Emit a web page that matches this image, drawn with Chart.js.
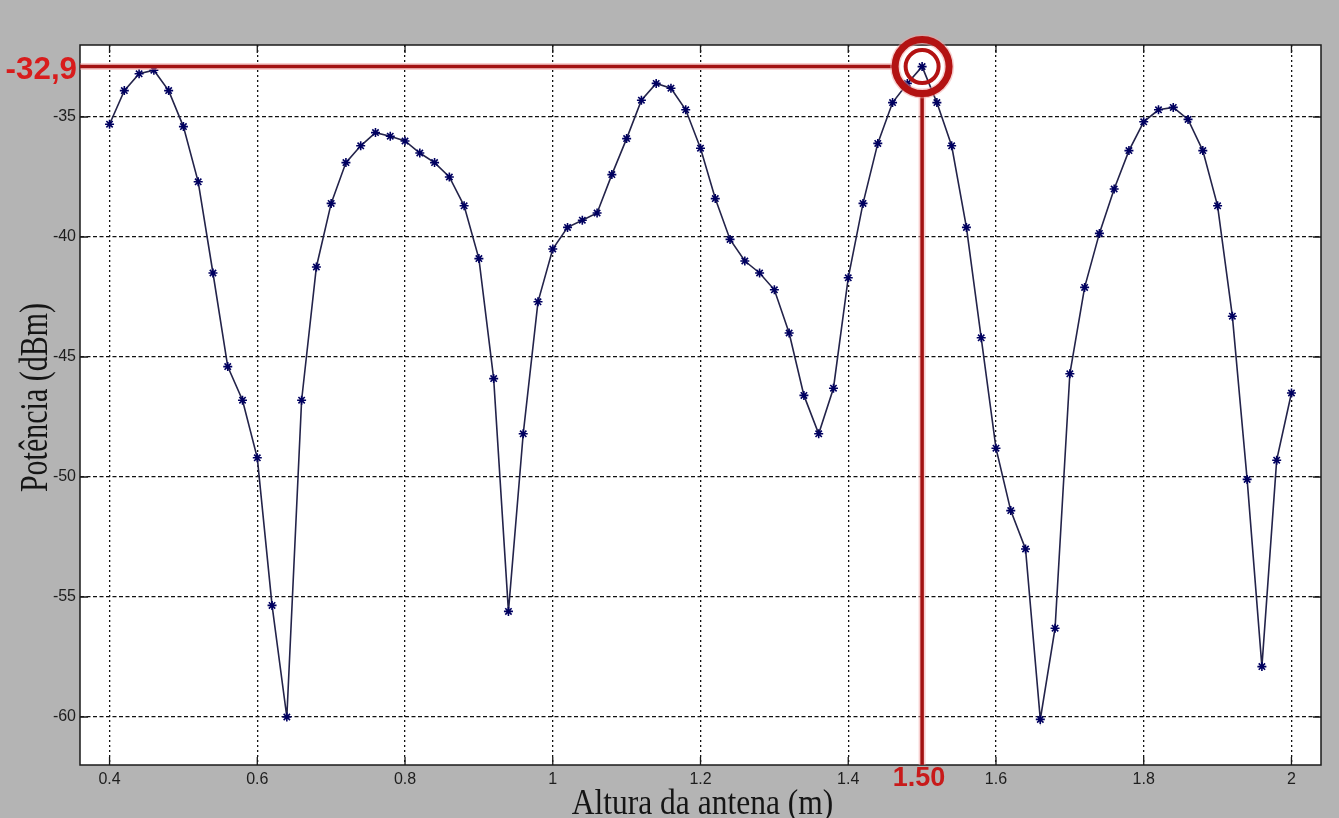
<!DOCTYPE html>
<html>
<head>
<meta charset="utf-8">
<script src="https://cdn.jsdelivr.net/npm/chart.js@4/dist/chart.umd.min.js"></script>
<style>
  html, body { margin: 0; padding: 0; background: #b4b4b4; }
  canvas { display: block; }
</style>
</head>
<body>
<canvas id="c" width="1339" height="818"></canvas>
<script>
// ---- data ----
const heights = [0.40,0.42,0.44,0.46,0.48,0.50,0.52,0.54,0.56,0.58,
                 0.60,0.62,0.64,0.66,0.68,0.70,0.72,0.74,0.76,0.78,
                 0.80,0.82,0.84,0.86,0.88,0.90,0.92,0.94,0.96,0.98,
                 1.00,1.02,1.04,1.06,1.08,1.10,1.12,1.14,1.16,1.18,
                 1.20,1.22,1.24,1.26,1.28,1.30,1.32,1.34,1.36,1.38,
                 1.40,1.42,1.44,1.46,1.48,1.50,1.52,1.54,1.56,1.58,
                 1.60,1.62,1.64,1.66,1.68,1.70,1.72,1.74,1.76,1.78,
                 1.80,1.82,1.84,1.86,1.88,1.90,1.92,1.94,1.96,1.98,2.00];
const power = [-35.3,-33.9,-33.2,-33.05,-33.9,-35.4,-37.7,-41.5,-45.4,-46.8,
               -49.2,-55.35,-60.0,-46.8,-41.25,-38.6,-36.9,-36.2,-35.65,-35.8,
               -36.0,-36.5,-36.9,-37.5,-38.7,-40.9,-45.9,-55.6,-48.2,-42.7,
               -40.5,-39.6,-39.3,-39.0,-37.4,-35.9,-34.3,-33.6,-33.8,-34.7,
               -36.3,-38.4,-40.1,-41.0,-41.5,-42.2,-44.0,-46.6,-48.2,-46.3,
               -41.7,-38.6,-36.1,-34.4,-33.6,-32.9,-34.4,-36.2,-39.6,-44.2,
               -48.8,-51.4,-53.0,-60.1,-56.3,-45.7,-42.1,-39.85,-38.0,-36.4,
               -35.2,-34.7,-34.6,-35.1,-36.4,-38.7,-43.3,-50.1,-57.9,-49.3,-46.5];
const xTicks = [0.4,0.6,0.8,1.0,1.2,1.4,1.6,1.8,2.0];
const xTickLabels = ['0.4','0.6','0.8','1','1.2','1.4','1.6','1.8','2'];
const yTicks = [-60,-55,-50,-45,-40,-35];
const yTickLabels = ['-60','-55','-50','-45','-40','-35'];
const peakX = 1.50;
const peakY = -32.9;
const peakXLabel = '1.50';
const peakYLabel = '-32,9';
const xTitle = 'Altura da antena (m)';
const yTitle = 'Potência (dBm)';

const tickFont = '"Liberation Sans", Arial, sans-serif';
const titleFont = '"Liberation Serif", "Times New Roman", serif';

// ---- plugins ----
const bgPlugin = {
  id: 'bg',
  beforeDraw(chart) {
    const {ctx, chartArea: a} = chart;
    ctx.save();
    ctx.fillStyle = '#b4b4b4';
    ctx.fillRect(0, 0, chart.width, chart.height);
    ctx.fillStyle = '#ffffff';
    ctx.fillRect(a.left, a.top, a.right - a.left, a.bottom - a.top);
    ctx.restore();
  }
};

const boxPlugin = {
  id: 'box',
  afterDatasetsDraw(chart) {
    const {ctx, chartArea: a, scales} = chart;
    ctx.save();
    ctx.strokeStyle = '#1a1a1a';
    ctx.lineWidth = 1.5;
    ctx.setLineDash([]);
    ctx.strokeRect(a.left, a.top, a.right - a.left, a.bottom - a.top);
    ctx.lineWidth = 1.3;
    const tl = 8;
    ctx.beginPath();
    xTicks.forEach(v => {
      const px = scales.x.getPixelForValue(v);
      ctx.moveTo(px, a.bottom); ctx.lineTo(px, a.bottom - tl);
      ctx.moveTo(px, a.top); ctx.lineTo(px, a.top + tl);
    });
    yTicks.forEach(v => {
      const py = scales.y.getPixelForValue(v);
      ctx.moveTo(a.left, py); ctx.lineTo(a.left + tl, py);
      ctx.moveTo(a.right, py); ctx.lineTo(a.right - tl, py);
    });
    ctx.stroke();

    // axis titles (stretched like the reference image)
    ctx.fillStyle = '#151515';
    ctx.textAlign = 'center';
    ctx.textBaseline = 'alphabetic';
    ctx.font = '31.5px ' + titleFont;
    ctx.save();
    ctx.translate((a.left + a.right) / 2 + 2, 814);
    ctx.scale(1, 1.12);
    ctx.fillText(xTitle, 0, 0);
    ctx.restore();

    ctx.font = '30px ' + titleFont;
    ctx.save();
    ctx.translate(47, (a.top + a.bottom) / 2 - 7.5);
    ctx.rotate(-Math.PI / 2);
    ctx.scale(1, 1.35);
    ctx.fillText(yTitle, 0, 0);
    ctx.restore();

    ctx.restore();
  }
};

const annotPlugin = {
  id: 'annot',
  afterDraw(chart) {
    const {ctx, chartArea: a, scales} = chart;
    const cx = scales.x.getPixelForValue(peakX);
    const cy = scales.y.getPixelForValue(peakY);
    const rOut = 27, rIn = 16.5;
    ctx.save();
    ctx.setLineDash([]);
    // halo
    ctx.strokeStyle = 'rgba(240,150,150,0.45)';
    ctx.lineWidth = 7;
    ctx.beginPath();
    ctx.moveTo(a.left, cy); ctx.lineTo(cx - rOut, cy);
    ctx.moveTo(cx, cy + rOut); ctx.lineTo(cx, a.bottom);
    ctx.stroke();
    // lines
    ctx.strokeStyle = '#a31212';
    ctx.lineWidth = 3.5;
    ctx.beginPath();
    ctx.moveTo(a.left, cy); ctx.lineTo(cx - rOut, cy);
    ctx.moveTo(cx, cy + rOut); ctx.lineTo(cx, a.bottom);
    ctx.stroke();
    // rings
    ctx.strokeStyle = 'rgba(240,160,160,0.5)';
    ctx.lineWidth = 10;
    ctx.beginPath(); ctx.arc(cx, cy, rOut, 0, Math.PI * 2); ctx.stroke();
    ctx.strokeStyle = '#b31212';
    ctx.lineWidth = 7;
    ctx.beginPath(); ctx.arc(cx, cy, rOut, 0, Math.PI * 2); ctx.stroke();
    ctx.lineWidth = 4;
    ctx.beginPath(); ctx.arc(cx, cy, rIn, 0, Math.PI * 2); ctx.stroke();
    // labels
    ctx.fillStyle = '#d81c1c';
    ctx.textAlign = 'right';
    ctx.textBaseline = 'alphabetic';
    ctx.font = 'bold 29px "Liberation Sans", Arial, sans-serif';
    ctx.save();
    ctx.translate(a.left - 3, cy + 12);
    ctx.scale(1.08, 1.05);
    ctx.fillText(peakYLabel, 0, 0);
    ctx.restore();
    ctx.fillStyle = '#c81a1a';
    ctx.font = 'bold 27px "Liberation Sans", Arial, sans-serif';
    ctx.textAlign = 'center';
    ctx.fillText(peakXLabel, cx - 3, a.bottom + 21);
    ctx.restore();
  }
};

new Chart(document.getElementById('c'), {
  type: 'line',
  data: {
    datasets: [{
      data: heights.map((h, i) => ({x: h, y: power[i]})),
      borderColor: '#23234a',
      borderWidth: 1.6,
      pointStyle: 'star',
      pointRadius: 4.5,
      pointBorderColor: '#000060',
      pointBorderWidth: 1.6,
      pointBackgroundColor: '#000060',
      tension: 0,
      fill: false
    }]
  },
  options: {
    responsive: false,
    animation: false,
    devicePixelRatio: 1,
    layout: { padding: { top: 45, right: 18, bottom: 0, left: 0 } },
    plugins: { legend: { display: false }, tooltip: { enabled: false } },
    scales: {
      x: {
        type: 'linear',
        min: 0.36,
        max: 2.04,
        afterBuildTicks: s => { s.ticks = xTicks.map(v => ({value: v})); },
        afterFit: s => { s.height = 53; },
        ticks: {
          callback: (v) => xTickLabels[xTicks.findIndex(t => Math.abs(t - v) < 1e-6)],
          color: '#1e1e1e',
          font: { family: tickFont, size: 16 },
          padding: 5,
          maxRotation: 0,
          autoSkip: false
        },
        grid: {
          color: '#111111',
          lineWidth: 1.3,
          drawTicks: false,
          tickLength: 0
        },
        border: { display: false, dash: [2, 3] },
        title: { display: false }
      },
      y: {
        type: 'linear',
        min: -62,
        max: -32,
        afterBuildTicks: s => { s.ticks = yTicks.map(v => ({value: v})); },
        afterFit: s => { s.width = 80; },
        ticks: {
          callback: (v) => yTickLabels[yTicks.indexOf(v)],
          color: '#1e1e1e',
          font: { family: tickFont, size: 16 },
          padding: 4,
          autoSkip: false
        },
        grid: {
          color: '#111111',
          lineWidth: 1.3,
          drawTicks: false,
          tickLength: 0
        },
        border: { display: false, dash: [4, 2.5] },
        title: { display: false }
      }
    }
  },
  plugins: [bgPlugin, boxPlugin, annotPlugin]
});
</script>
</body>
</html>
